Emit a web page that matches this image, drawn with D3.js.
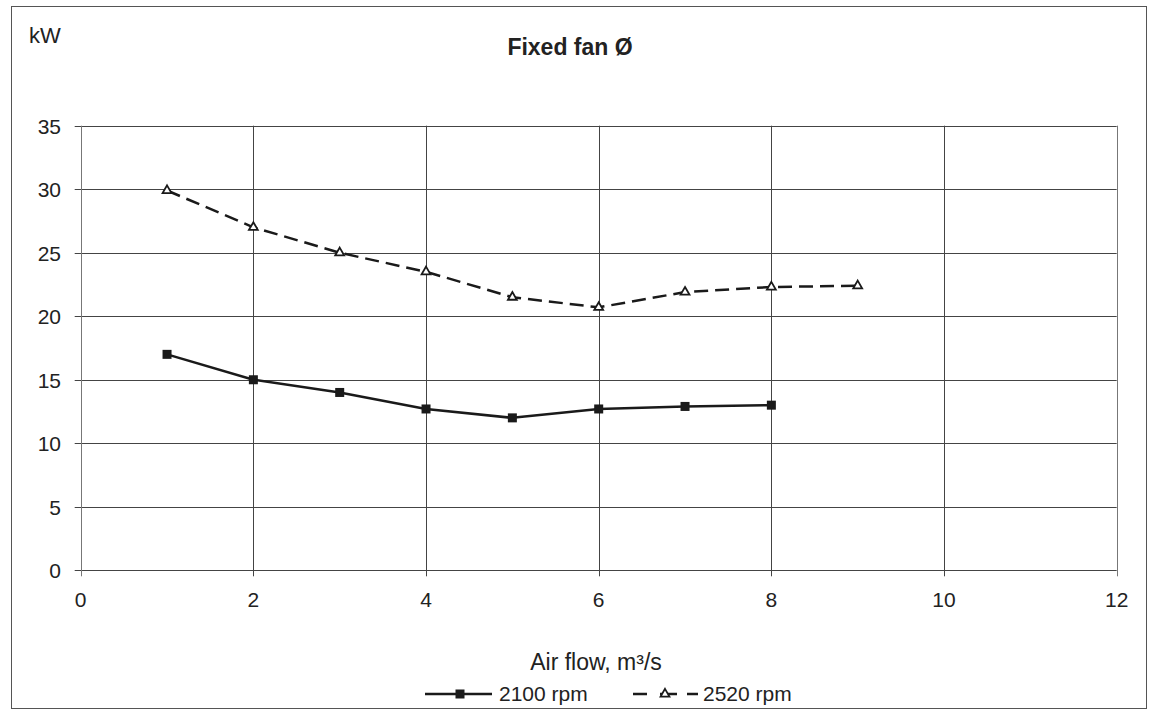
<!DOCTYPE html>
<html><head><meta charset="utf-8">
<script src="https://cdn.jsdelivr.net/npm/d3@7"></script>
<style>body{margin:0;background:#fff;} text{font-family:"Liberation Sans",Arial,sans-serif;fill:#222;}</style>
</head><body>
<svg id="c" width="1157" height="720"></svg>
<script>
const xTicks = [0, 2, 4, 6, 8, 10, 12];
const yTicks = [0, 5, 10, 15, 20, 25, 30, 35];
const x2100 = [1, 2, 3, 4, 5, 6, 7, 8];
const y2100 = [17.0, 15.0, 14.0, 12.7, 12.0, 12.7, 12.9, 13.0];
const x2520 = [1, 2, 3, 4, 5, 6, 7, 8, 9];
const y2520 = [29.9, 27.0, 25.0, 23.5, 21.5, 20.7, 21.9, 22.3, 22.4];
const seriesNames = ["2100 rpm", "2520 rpm"];

const svg = d3.select("#c");
svg.append("rect").attr("x", 11.5).attr("y", 6.5).attr("width", 1135).attr("height", 702)
  .attr("fill", "none").attr("stroke", "#555").attr("stroke-width", 1);

const x = d3.scaleLinear().domain([0, 12]).range([80.7, 1116.7]);
const y = d3.scaleLinear().domain([0, 35]).range([570.3, 125.7]);

// grid
const g = svg.append("g");
g.selectAll(".hg").data(yTicks).join("line")
  .attr("x1", x(0) - 6).attr("x2", x(12))
  .attr("y1", d => Math.round(y(d)) + 0.5).attr("y2", d => Math.round(y(d)) + 0.5)
  .attr("stroke", "#444").attr("stroke-width", 1);
g.selectAll(".vg").data(xTicks).join("line")
  .attr("y1", y(35)).attr("y2", y(0) + 6)
  .attr("x1", d => Math.round(x(d)) + 0.5).attr("x2", d => Math.round(x(d)) + 0.5)
  .attr("stroke", d => (d === 0 || d === 12) ? "#777" : "#444").attr("stroke-width", 1);

// tick labels
svg.append("g").selectAll("text").data(yTicks).join("text")
  .attr("x", 61).attr("y", d => y(d) + 8).attr("text-anchor", "end")
  .attr("font-size", 21).text(d => d);
svg.append("g").selectAll("text").data(xTicks).join("text")
  .attr("x", d => x(d)).attr("y", y(0) + 37).attr("text-anchor", "middle")
  .attr("font-size", 21).text(d => d);

svg.append("text").attr("x", 29).attr("y", 43).attr("font-size", 22).text("kW");
svg.append("text").attr("x", 570).attr("y", 55).attr("text-anchor", "middle")
  .attr("font-size", 23).attr("font-weight", "bold").text("Fixed fan Ø");
svg.append("text").attr("x", 596).attr("y", 670).attr("text-anchor", "middle")
  .attr("font-size", 23).text("Air flow, m³/s");

const line = d3.line().x(d => x(d[0])).y(d => y(d[1]));
const d1 = x2100.map((v, i) => [v, y2100[i]]);
const d2 = x2520.map((v, i) => [v, y2520[i]]);

svg.append("path").datum(d1).attr("d", line).attr("fill", "none")
  .attr("stroke", "#1a1a1a").attr("stroke-width", 2.5);
svg.append("path").datum(d2).attr("d", line).attr("fill", "none")
  .attr("stroke", "#1a1a1a").attr("stroke-width", 2.5).attr("stroke-dasharray", "14,7");

const sq = 9;
svg.append("g").selectAll("rect").data(d1).join("rect")
  .attr("x", d => x(d[0]) - sq / 2).attr("y", d => y(d[1]) - sq / 2)
  .attr("width", sq).attr("height", sq).attr("fill", "#1a1a1a");
const tri = d3.symbol().type(d3.symbolTriangle).size(34);
svg.append("g").selectAll("path").data(d2).join("path")
  .attr("d", tri).attr("transform", d => `translate(${x(d[0])},${y(d[1])})`)
  .attr("fill", "#fff").attr("stroke", "#1a1a1a").attr("stroke-width", 1.8);

// legend
const ly = 694;
svg.append("line").attr("x1", 425).attr("x2", 492).attr("y1", ly).attr("y2", ly)
  .attr("stroke", "#1a1a1a").attr("stroke-width", 2.5);
svg.append("rect").attr("x", 460 - sq / 2).attr("y", ly - sq / 2).attr("width", sq).attr("height", sq).attr("fill", "#1a1a1a");
svg.append("text").attr("x", 499).attr("y", ly + 7).attr("font-size", 21).text(seriesNames[0]);
svg.append("line").attr("x1", 633).attr("x2", 698).attr("y1", ly).attr("y2", ly)
  .attr("stroke", "#1a1a1a").attr("stroke-width", 2.5).attr("stroke-dasharray", "14,13,17,10,11,50");
svg.append("path").attr("d", tri).attr("transform", `translate(665,${ly})`)
  .attr("fill", "#fff").attr("stroke", "#1a1a1a").attr("stroke-width", 1.8);
svg.append("text").attr("x", 703).attr("y", ly + 7).attr("font-size", 21).text(seriesNames[1]);
</script>
</body></html>
